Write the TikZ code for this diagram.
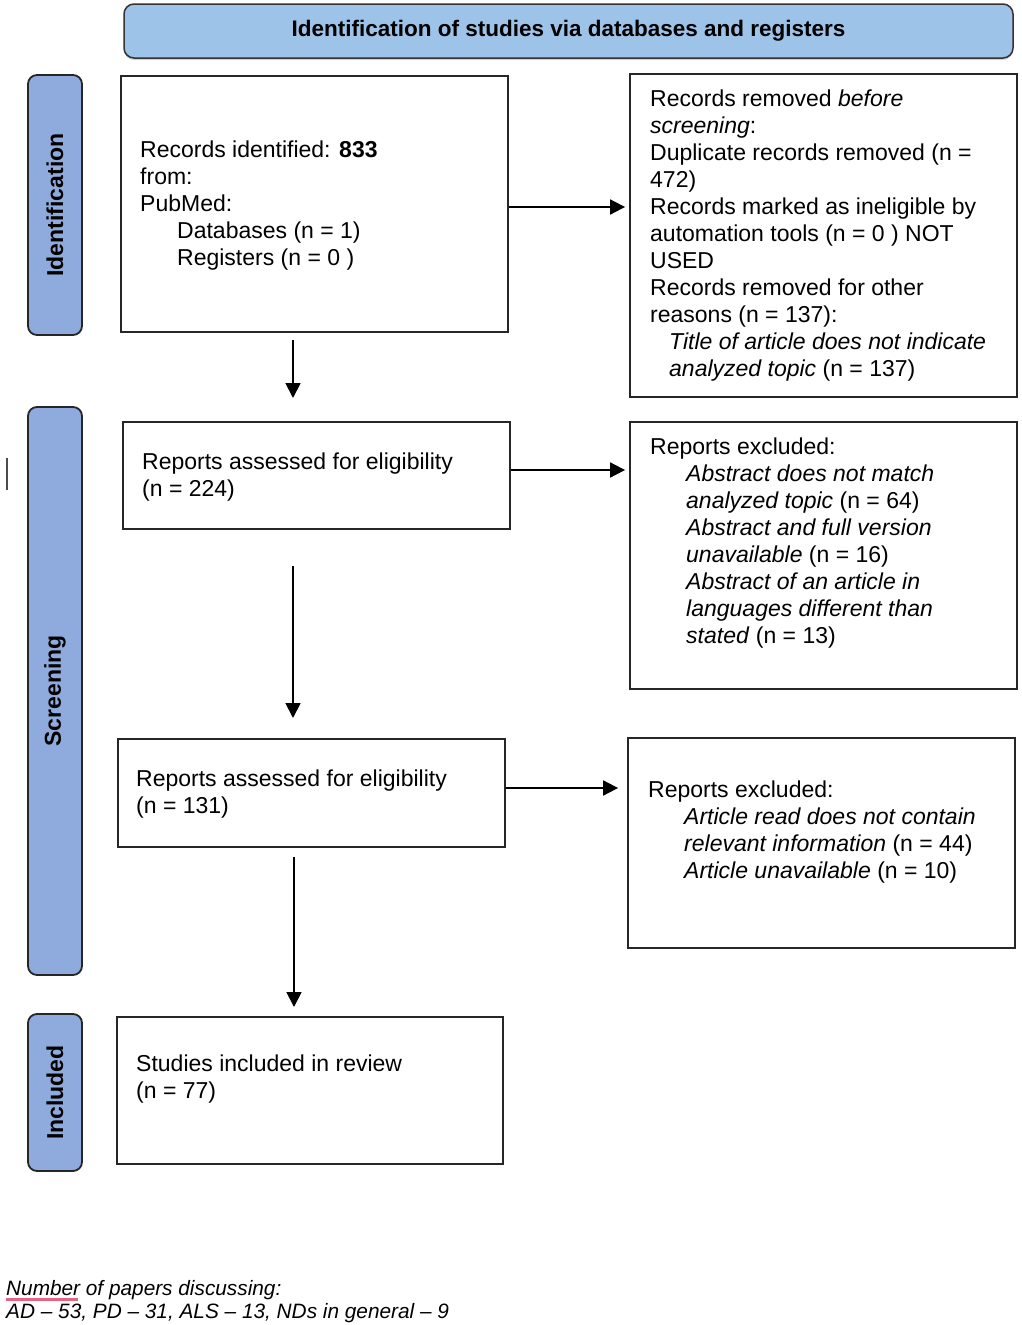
\documentclass[tikz,border=0pt]{standalone}
\usepackage{fontspec}
\setmainfont{Liberation Sans}
\usetikzlibrary{arrows.meta,shadows,calc}
\definecolor{headfill}{RGB}{157,195,232}
\definecolor{sidefill}{RGB}{143,170,220}
\definecolor{squiggle}{RGB}{230,100,130}
\newcommand{\lines}[1]{\begin{tabular}[t]{@{}l@{}}#1\end{tabular}}
\begin{document}
\begin{tikzpicture}[x=1pt,y=-1pt,
  box/.style={draw=black!85, line width=1.8pt, inner sep=0pt},
  txt/.style={anchor=base west, inner sep=0pt, font=\fontsize{23}{27}\selectfont},
  sidebar/.style={draw=black!85, line width=1.8pt, fill=sidefill, rounded corners=9pt, inner sep=0pt},
  sidelabel/.style={rotate=90, font=\fontsize{23}{27}\selectfont\bfseries, inner sep=0pt},
  arr/.style={line width=1.8pt, -{Triangle[length=15pt,width=15pt]}},
  header/.style={draw=black!80, line width=1.5pt, fill=headfill, rounded corners=10pt, inner sep=0pt,
    drop shadow={shadow xshift=0pt, shadow yshift=-2pt, fill=black!35},
    font=\fontsize{22.5}{27}\selectfont\bfseries}
]
\useasboundingbox (0,0) rectangle (1021,1325);

% header
\node[header, minimum width=889pt, minimum height=54pt] (head) at (568.5,31)
  {Identification of studies via databases and registers};

% side bars
\node[sidebar, minimum width=54pt, minimum height=260pt] (s1) at (55,205) {};
\node[sidelabel] (s1l) at (s1.center) {Identification};
\node[sidebar, minimum width=54pt, minimum height=568pt] (s2) at (55,691) {};
\node[sidelabel] (s2l) at (s2.center) {Screening};
\node[sidebar, minimum width=54pt, minimum height=157pt] (s3) at (55,1092.5) {};
\node[sidelabel] (s3l) at (s3.center) {Included};

% boxes
\node[box, minimum width=387pt, minimum height=256pt] (b1) at (314.5,204) {};
\node[box, minimum width=387pt, minimum height=323pt] (b2) at (823.5,235.5) {};
\node[box, minimum width=387pt, minimum height=107pt] (b3) at (316.5,475.5) {};
\node[box, minimum width=387pt, minimum height=267pt] (b4) at (823.5,555.5) {};
\node[box, minimum width=387pt, minimum height=108pt] (b5) at (311.5,793) {};
\node[box, minimum width=387pt, minimum height=210pt] (b6) at (821.5,843) {};
\node[box, minimum width=386pt, minimum height=147pt] (b7) at (310,1090.5) {};

% texts
\node[txt] (t1) at (140,157) {\lines{Records identified: \textbf{833}\\
from:\\
PubMed:\\
\hspace*{37pt}Databases (n = 1)\\
\hspace*{37pt}Registers (n = 0 )}};

\node[txt] (t2) at (650,106) {\lines{Records removed \textit{before}\\
\textit{screening}:\\
Duplicate records removed (n =\\
472)\\
Records marked as ineligible by\\
automation tools (n = 0 ) NOT\\
USED\\
Records removed for other\\
reasons (n = 137):\\
\hspace*{19pt}\textit{Title of article does not indicate}\\
\hspace*{19pt}\textit{analyzed topic} (n = 137)}};

\node[txt] (t3) at (142,469) {\lines{Reports assessed for eligibility\\
(n = 224)}};

\node[txt] (t4) at (650,454) {\lines{Reports excluded:\\
\hspace*{36pt}\textit{Abstract does not match}\\
\hspace*{36pt}\textit{analyzed topic} (n = 64)\\
\hspace*{36pt}\textit{Abstract and full version}\\
\hspace*{36pt}\textit{unavailable} (n = 16)\\
\hspace*{36pt}\textit{Abstract of an article in}\\
\hspace*{36pt}\textit{languages different than}\\
\hspace*{36pt}\textit{stated} (n = 13)}};

\node[txt] (t5) at (136,786) {\lines{Reports assessed for eligibility\\
(n = 131)}};

\node[txt] (t6) at (648,797) {\lines{Reports excluded:\\
\hspace*{36pt}\textit{Article read does not contain}\\
\hspace*{36pt}\textit{relevant information} (n = 44)\\
\hspace*{36pt}\textit{Article unavailable} (n = 10)}};

\node[txt] (t7) at (136,1071) {\lines{Studies included in review\\
(n = 77)}};

\node[txt, font=\fontsize{20.8}{23}\selectfont\itshape] (foot) at (6,1295)
  {\lines{Number of papers discussing:\\
AD -- 53, PD -- 31, ALS -- 13, NDs in general -- 9}};

% spell-check squiggle under "Number"
\draw[line width=3pt, squiggle] ([yshift=-4.5pt]foot.base west) -- ++(72,0);

% stray cursor mark
\draw[line width=1.5pt, black!70] (7,458) -- (7,490);

% down arrows
\coordinate (a1s) at (293,340);
\coordinate (a1e) at (293,398);
\coordinate (a2s) at (293,566);
\coordinate (a2e) at (293,718);
\coordinate (a3s) at (294,857);
\coordinate (a3e) at (294,1007);
\draw[arr] (a1s) -- (a1e);
\draw[arr] (a2s) -- (a2e);
\draw[arr] (a3s) -- (a3e);

% right arrows
\draw[arr] ([yshift=-3pt]b1.east) -- ([yshift=-3pt,xshift=-4pt]b1.east -| b2.west);
\draw[arr] ([yshift=5.5pt]b3.east) -- ([yshift=5.5pt,xshift=-4pt]b3.east -| b4.west);
\draw[arr] ([yshift=5pt]b5.east) -- ([yshift=5pt,xshift=-9pt]b5.east -| b6.west);
\end{tikzpicture}
\end{document}
